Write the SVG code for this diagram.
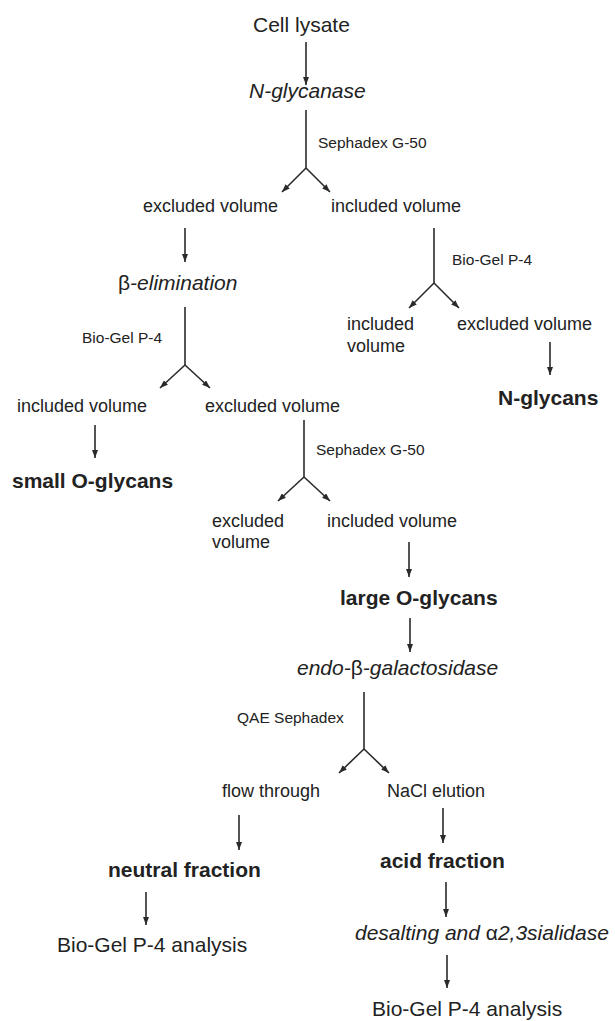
<svg xmlns="http://www.w3.org/2000/svg" width="615" height="1021" viewBox="0 0 615 1021">
<defs>
<marker id="ah" markerWidth="8" markerHeight="6" refX="8" refY="3" orient="auto" markerUnits="userSpaceOnUse">
<path d="M0,0 L8,3 L0,6 z" fill="#2a2a2a"/>
</marker>
<style>
text{font-family:"Liberation Sans",Arial,sans-serif;fill:#222;}
.t{font-size:21px;}
.v{font-size:18px;}
.i{font-size:21px;font-style:italic;}
.b{font-size:21px;font-weight:bold;}
.l{font-size:15.5px;}
.g{font-style:normal;}
.c line{stroke:#2a2a2a;stroke-width:1.6;}
.c .a{marker-end:url(#ah);}
</style>
</defs>
<rect width="615" height="1021" fill="#fff"/>
<g id="connectors" class="c">
<line class="a" x1="306" y1="42" x2="306" y2="85"/>
<line x1="306" y1="110" x2="306" y2="168"/>
<line class="a" x1="306" y1="168" x2="282" y2="192"/>
<line class="a" x1="306" y1="168" x2="330" y2="192"/>
<line class="a" x1="185" y1="228" x2="185" y2="262"/>
<line x1="185" y1="307" x2="185" y2="365"/>
<line class="a" x1="185" y1="365" x2="160" y2="388"/>
<line class="a" x1="185" y1="365" x2="210" y2="388"/>
<line class="a" x1="95" y1="425" x2="95" y2="458"/>
<line x1="434" y1="228" x2="434" y2="283"/>
<line class="a" x1="434" y1="283" x2="409" y2="308"/>
<line class="a" x1="434" y1="283" x2="459" y2="308"/>
<line class="a" x1="550" y1="342" x2="550" y2="375"/>
<line x1="304" y1="420" x2="304" y2="477"/>
<line class="a" x1="304" y1="477" x2="278" y2="501"/>
<line class="a" x1="304" y1="477" x2="330" y2="501"/>
<line class="a" x1="409" y1="542" x2="409" y2="577"/>
<line class="a" x1="410" y1="618" x2="410" y2="652"/>
<line x1="364" y1="692" x2="364" y2="749"/>
<line class="a" x1="364" y1="749" x2="339" y2="773"/>
<line class="a" x1="364" y1="749" x2="389" y2="773"/>
<line class="a" x1="239" y1="815" x2="239" y2="850"/>
<line class="a" x1="443" y1="808" x2="443" y2="843"/>
<line class="a" x1="146" y1="892" x2="146" y2="925"/>
<line class="a" x1="446" y1="882" x2="446" y2="917"/>
<line class="a" x1="447" y1="955" x2="447" y2="988"/>
<text class="l" x="318" y="148">Sephadex G-50</text>
<text class="l" x="82" y="343">Bio-Gel P-4</text>
<text class="l" x="452" y="265">Bio-Gel P-4</text>
<text class="l" x="316" y="455">Sephadex G-50</text>
<text class="l" x="237" y="723">QAE Sephadex</text>
</g>
<g id="n1"><text class="t" x="253" y="32">Cell lysate</text></g>
<g id="n2"><text class="i" x="249" y="98">N-glycanase</text></g>
<g id="n3"><text class="v" x="143" y="212">excluded volume</text></g>
<g id="n4"><text class="v" x="331" y="212">included volume</text></g>
<g id="n5"><text class="i" x="118" y="290"><tspan class="g">β</tspan>-elimination</text></g>
<g id="n6"><text class="v" x="17" y="412">included volume</text></g>
<g id="n7"><text class="v" x="205" y="412">excluded volume</text></g>
<g id="n8"><text class="v" x="347" y="330">included</text><text class="v" x="347" y="352">volume</text></g>
<g id="n9"><text class="v" x="457" y="330">excluded volume</text></g>
<g id="n10"><text class="b" x="498" y="405">N-glycans</text></g>
<g id="n11"><text class="b" x="12" y="488">small O-glycans</text></g>
<g id="n12"><text class="v" x="212" y="527">excluded</text><text class="v" x="212" y="548">volume</text></g>
<g id="n13"><text class="v" x="327" y="527">included volume</text></g>
<g id="n14"><text class="b" x="340" y="605">large O-glycans</text></g>
<g id="n15"><text class="i" x="297" y="675">endo-<tspan class="g">β</tspan>-galactosidase</text></g>
<g id="n16"><text class="v" x="222" y="797">flow through</text></g>
<g id="n17"><text class="v" x="387" y="797">NaCl elution</text></g>
<g id="n18"><text class="b" x="108" y="877">neutral fraction</text></g>
<g id="n19"><text class="b" x="380" y="868">acid fraction</text></g>
<g id="n20"><text class="t" x="57" y="952">Bio-Gel P-4 analysis</text></g>
<g id="n21"><text class="i" x="355" y="940">desalting and <tspan class="g">α</tspan>2,3sialidase</text></g>
<g id="n22"><text class="t" x="372" y="1016">Bio-Gel P-4 analysis</text></g>
</svg>
